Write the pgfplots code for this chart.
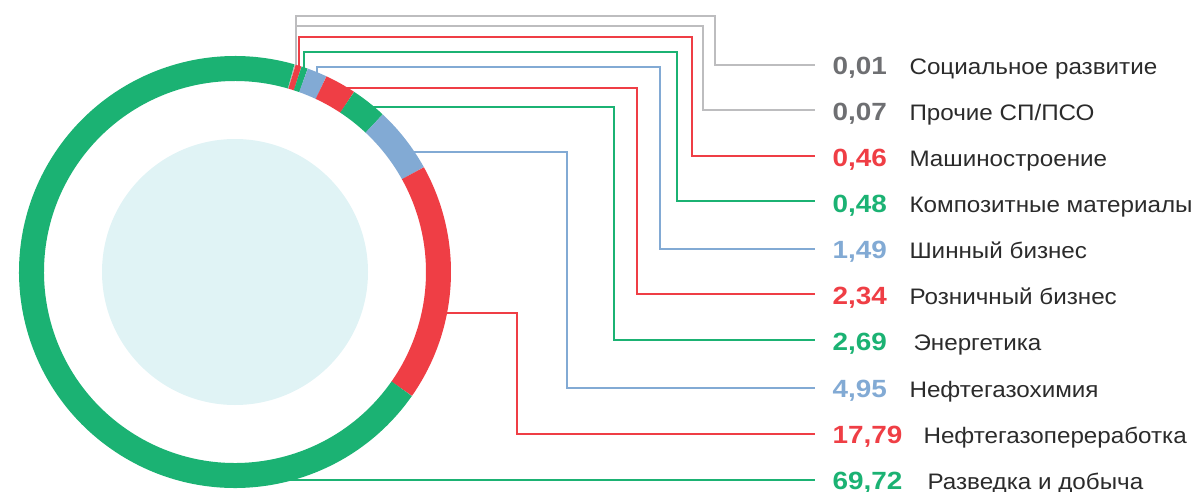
\documentclass[border=0pt]{standalone}
\usepackage{pgfplots}
\pgfplotsset{compat=1.18}
\usepackage{fontspec}
\setmainfont{Liberation Sans}
\newfontfamily\valfam[FakeStretch=1.12]{Liberation Sans}
\newfontfamily\namefam[FakeStretch=1.08]{Liberation Sans}
\definecolor{cgreen}{HTML}{1BB273}
\definecolor{cred}{HTML}{EF3E45}
\definecolor{cblue}{HTML}{82AAD4}
\definecolor{cgrey}{HTML}{6E6F72}
\definecolor{cline}{HTML}{BDBDBF}
\definecolor{ctext}{HTML}{2B2B2B}
\definecolor{ccore}{HTML}{E0F3F5}
\newcommand\valf{\valfam\fontsize{25}{25}\selectfont\bfseries}
\newcommand\namef{\namefam\fontsize{22.5}{22.5}\selectfont}
\begin{document}
\begin{tikzpicture}
\begin{axis}[
  scale only axis, width=1195bp, height=492bp,
  xmin=0, xmax=1195, ymin=0, ymax=492, y dir=reverse,
  hide axis, clip=false,
  every axis plot/.append style={line width=1.8bp, no marks},
]
% leader lines
\addplot[cline]  coordinates {(296,70) (296,16) (715,16) (715,65) (815,65)};
\addplot[cline]  coordinates {(296,70) (296,26) (703,26) (703,110) (815,110)};
\addplot[cred]   coordinates {(299,70) (299,37) (692,37) (692,156) (815,156)};
\addplot[cgreen] coordinates {(304,72) (304,52) (677,52) (677,201) (815,201)};
\addplot[cblue]  coordinates {(317,78) (317,67) (660,67) (660,249) (815,249)};
\addplot[cred]   coordinates {(345,88) (637,88) (637,294) (815,294)};
\addplot[cgreen] coordinates {(372,107) (614,107) (614,340) (815,340)};
\addplot[cblue]  coordinates {(412,152) (567,152) (567,388) (815,388)};
\addplot[cred]   coordinates {(440,313) (517,313) (517,434) (815,434)};
\addplot[cgreen] coordinates {(288,480) (815,480)};
% donut
\pgfplotsextra{
  \fill[ccore] (axis cs:235,272) circle[radius=133bp];
  \xdef\ang{74}
  \foreach \v/\c in {0.01/cline,0.07/cline,0.46/cred,0.48/cgreen,1.49/cblue,2.34/cred,2.69/cgreen,4.95/cblue,17.79/cred,69.72/cgreen}{
    \pgfmathsetmacro\endang{\ang-3.6*\v}
    \draw[\c, line width=25bp] (axis cs:235,272) ++(\ang:203.5bp) arc[start angle=\ang, end angle=\endang, radius=203.5bp];
    \xdef\ang{\endang}
  }
}
% labels
\node[anchor=base west, text=cgrey]  at (axis cs:829,75)  {\valf 0,01};
\node[anchor=base west, text=cgrey]  at (axis cs:829,120) {\valf 0,07};
\node[anchor=base west, text=cred]   at (axis cs:829,166) {\valf 0,46};
\node[anchor=base west, text=cgreen] at (axis cs:829,212) {\valf 0,48};
\node[anchor=base west, text=cblue]  at (axis cs:829,258) {\valf 1,49};
\node[anchor=base west, text=cred]   at (axis cs:829,304) {\valf 2,34};
\node[anchor=base west, text=cgreen] at (axis cs:829,350) {\valf 2,69};
\node[anchor=base west, text=cblue]  at (axis cs:829,397) {\valf 4,95};
\node[anchor=base west, text=cred]   at (axis cs:829,443) {\valf 17,79};
\node[anchor=base west, text=cgreen] at (axis cs:829,489) {\valf 69,72};
\node[anchor=base west, text=ctext]  at (axis cs:906,75)  {\namef Социальное развитие};
\node[anchor=base west, text=ctext]  at (axis cs:906,120) {\namef Прочие СП/ПСО};
\node[anchor=base west, text=ctext]  at (axis cs:906,166) {\namef Машиностроение};
\node[anchor=base west, text=ctext]  at (axis cs:906,212) {\namef Композитные материалы};
\node[anchor=base west, text=ctext]  at (axis cs:906,258) {\namef Шинный бизнес};
\node[anchor=base west, text=ctext]  at (axis cs:906,304) {\namef Розничный бизнес};
\node[anchor=base west, text=ctext]  at (axis cs:910,350) {\namef Энергетика};
\node[anchor=base west, text=ctext]  at (axis cs:906,397) {\namef Нефтегазохимия};
\node[anchor=base west, text=ctext]  at (axis cs:920,443) {\namef Нефтегазопереработка};
\node[anchor=base west, text=ctext]  at (axis cs:924,489) {\namef Разведка и добыча};
\end{axis}
\pgfresetboundingbox
\path (current axis.south west) rectangle (current axis.north east);
\end{tikzpicture}
\end{document}
